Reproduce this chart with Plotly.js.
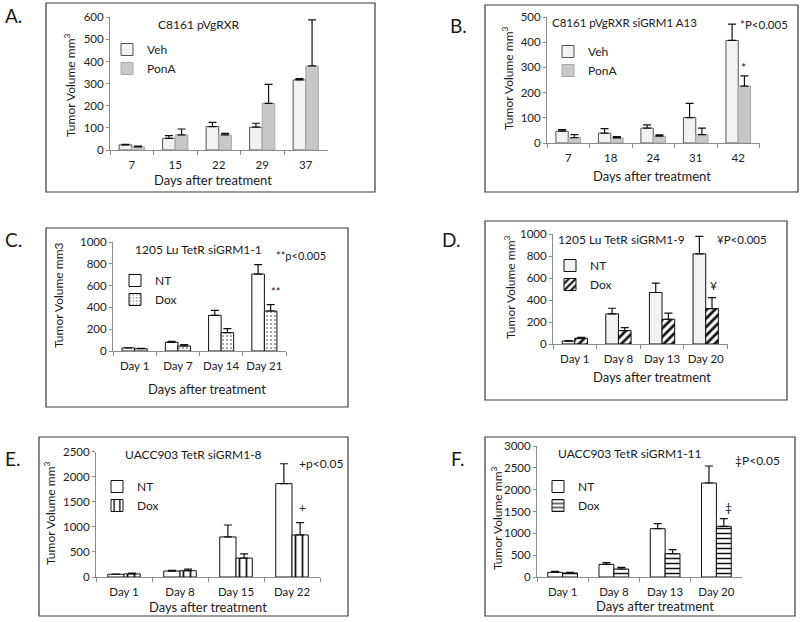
<!DOCTYPE html>
<html>
<head>
<meta charset="utf-8">
<script src="https://cdn.plot.ly/plotly-3.0.1.min.js"></script>
<style>html,body{margin:0;padding:0;background:#fff;}#chart{width:800px;height:622px;}</style>
</head>
<body>
<div id="chart"></div>
<script>
// ---------- DATA ----------
// Panel A: C8161 pVgRXR
const catsA = ['7', '15', '22', '29', '37'];
const vehA = [23, 53, 106, 103, 317];
const vehAErr = [3, 12, 19, 18, 6];
const ponAA = [14, 68, 68, 211, 380];
const ponAAErr = [4, 27, 7, 86, 208];

// Panel B: C8161 pVgRXR siGRM1 A13
const catsB = ['7', '18', '24', '31', '42'];
const vehB = [47, 39, 59, 101, 407];
const vehBErr = [6, 18, 13, 56, 65];
const ponAB = [21, 20, 27, 33, 226];
const ponABErr = [12, 5, 5, 26, 40];

// Panel C: 1205 Lu TetR siGRM1-1
const catsC = ['Day 1', 'Day 7', 'Day 14', 'Day 21'];
const ntC = [28, 80, 327, 706];
const ntCErr = [2, 9, 46, 86];
const doxC = [21, 46, 168, 367];
const doxCErr = [3, 12, 37, 58];

// Panel D: 1205 Lu TetR siGRM1-9
const catsD = ['Day 1', 'Day 8', 'Day 13', 'Day 20'];
const ntD = [27, 274, 468, 820];
const ntDErr = [3, 51, 85, 159];
const doxD = [52, 122, 225, 322];
const doxDErr = [8, 27, 55, 100];

// Panel E: UACC903 TetR siGRM1-8
const catsE = ['Day 1', 'Day 8', 'Day 15', 'Day 22'];
const ntE = [55, 119, 798, 1860];
const ntEErr = [5, 13, 238, 396];
const doxE = [62, 125, 376, 838];
const doxEErr = [18, 33, 86, 244];

// Panel F: UACC903 TetR siGRM1-11
const catsF = ['Day 1', 'Day 8', 'Day 13', 'Day 20'];
const ntF = [107, 290, 1107, 2153];
const ntFErr = [23, 38, 114, 389];
const doxF = [92, 183, 534, 1160];
const doxFErr = [15, 38, 92, 176];

// ---------- helpers ----------
const W = 800, H = 622;
const px = x => x / W;
const py = y => 1 - y / H;
const FONT = 'Lato, "Open Sans", sans-serif';

function bar(name, cats, vals, errs, ax, leg, marker) {
  return {
    type: 'bar', name: name, x: cats, y: vals,
    xaxis: 'x' + ax, yaxis: 'y' + ax, legend: leg,
    marker: marker,
    error_y: {type: 'data', array: errs, arrayminus: errs.map(() => 0), symmetric: false,
              color: '#111', thickness: 1.2, width: 4},
    hoverinfo: 'skip'
  };
}

const vehStyle = {color: '#f2f2f2', line: {color: '#555', width: 1}};
const ponStyle = {color: '#c8c8c8', line: {color: '#a8a8a8', width: 1}};
const ntWhite = {color: '#ffffff', line: {color: '#111', width: 1}};
const ntGray = {color: '#f2f2f2', line: {color: '#111', width: 1}};

const data = [
  bar('Veh', catsA, vehA, vehAErr, '', 'legend', vehStyle),
  bar('PonA', catsA, ponAA, ponAAErr, '', 'legend', ponStyle),
  bar('Veh', catsB, vehB, vehBErr, '2', 'legend2', vehStyle),
  bar('PonA', catsB, ponAB, ponABErr, '2', 'legend2', ponStyle),
  bar('NT', catsC, ntC, ntCErr, '3', 'legend3', ntWhite),
  bar('Dox', catsC, doxC, doxCErr, '3', 'legend3',
      {color: '#fff', line: {color: '#111', width: 1},
       pattern: {shape: '.', fgcolor: '#333', bgcolor: '#fff', size: 4, solidity: 0.12}}),
  bar('NT', catsD, ntD, ntDErr, '4', 'legend4', ntGray),
  bar('Dox', catsD, doxD, doxDErr, '4', 'legend4',
      {color: '#fff', line: {color: '#111', width: 1},
       pattern: {shape: '/', fgcolor: '#111', bgcolor: '#fff', size: 6, solidity: 0.45}}),
  bar('NT', catsE, ntE, ntEErr, '5', 'legend5', ntWhite),
  bar('Dox', catsE, doxE, doxEErr, '5', 'legend5',
      {color: '#fff', line: {color: '#111', width: 1},
       pattern: {shape: '|', fgcolor: '#111', bgcolor: '#fff', size: 7, solidity: 0.25}}),
  bar('NT', catsF, ntF, ntFErr, '6', 'legend6', ntWhite),
  bar('Dox', catsF, doxF, doxFErr, '6', 'legend6',
      {color: '#fff', line: {color: '#111', width: 1},
       pattern: {shape: '-', fgcolor: '#111', bgcolor: '#fff', size: 5, solidity: 0.3}})
];

// plot-area geometry (pixels)
const geo = [
  {ax: '',  x0: 110, x1: 327.5, yT: 17.3, yB: 150, max: 600,  dt: 100},
  {ax: '2', x0: 547, x1: 759.5, yT: 17,   yB: 143, max: 500,  dt: 100},
  {ax: '3', x0: 113, x1: 286,   yT: 242,  yB: 351, max: 1000, dt: 200},
  {ax: '4', x0: 553, x1: 727.5, yT: 234,  yB: 344, max: 1000, dt: 200},
  {ax: '5', x0: 96,  x1: 320,   yT: 451.5,yB: 577, max: 2500, dt: 500},
  {ax: '6', x0: 537, x1: 742,   yT: 446,  yB: 577, max: 3000, dt: 500}
];

const layout = {
  width: W, height: H,
  margin: {l: 0, r: 0, t: 0, b: 0},
  paper_bgcolor: '#fff', plot_bgcolor: 'rgba(0,0,0,0)',
  barmode: 'group', bargap: 0.42, bargroupgap: 0,
  font: {family: FONT, size: 11, color: '#222'},
  showlegend: true,
  annotations: [], shapes: []
};

geo.forEach(g => {
  layout['xaxis' + g.ax] = {
    domain: [px(g.x0), px(g.x1)], anchor: 'y' + g.ax, type: 'category',
    showline: true, linecolor: '#8c8c8c', linewidth: 1,
    ticks: 'outside', tickson: 'boundaries', ticklen: 4, tickcolor: '#8c8c8c',
    tickangle: 0, ticklabelstandoff: 4,
    tickfont: {family: FONT, size: 11.5, color: '#222'},
    showgrid: false, zeroline: false, fixedrange: true
  };
  layout['yaxis' + g.ax] = {
    domain: [py(g.yB), py(g.yT)], anchor: 'x' + g.ax,
    range: [0, g.max], dtick: g.dt, tick0: 0,
    showline: true, linecolor: '#8c8c8c', linewidth: 1,
    ticks: 'outside', ticklen: 3, tickcolor: '#8c8c8c',
    tickfont: {family: FONT, size: 11.5, color: '#222'},
    showgrid: false, zeroline: false, fixedrange: true
  };
});

// legends
const legPos = [
  ['legend', 127, 45], ['legend2', 568, 47], ['legend3', 135, 276],
  ['legend4', 570, 261], ['legend5', 117, 482], ['legend6', 558, 482]
];
legPos.forEach(([k, sx, sy]) => {
  layout[k] = {x: px(sx - 20), y: py(sy - 10), xanchor: 'left', yanchor: 'top',
               bgcolor: 'rgba(0,0,0,0)', borderwidth: 0,
               font: {family: FONT, size: 12, color: '#222'}};
});

// panel frames
const frames = [[46, 3, 375, 192], [485, 5, 798, 192], [46, 228, 348, 407],
                [485, 221, 787, 400], [39, 437, 348, 616], [485, 437, 795, 616]];
frames.forEach(f => layout.shapes.push({
  type: 'rect', xref: 'paper', yref: 'paper',
  x0: px(f[0]), x1: px(f[2]), y0: py(f[3]), y1: py(f[1]),
  line: {color: '#3a3a3a', width: 1.2}, fillcolor: 'rgba(0,0,0,0)'
}));

function txt(t, x, y, size, opts) {
  layout.annotations.push(Object.assign({
    text: t, xref: 'paper', yref: 'paper', x: px(x), y: py(y),
    xanchor: 'center', yanchor: 'middle', showarrow: false,
    font: {family: FONT, size: size, color: '#1a1a1a'}
  }, opts || {}));
}

// panel letters
txt('A.', 13, 16, 19); txt('B.', 458, 25, 19); txt('C.', 13, 240, 19);
txt('D.', 452, 240, 19); txt('E.', 12, 458, 19); txt('F.', 457, 458, 19);

// chart titles
txt('C8161 pVgRXR', 198, 24, 12);
txt('C8161 pVgRXR siGRM1 A13', 624, 23, 11.5);
txt('1205 Lu TetR siGRM1-1', 198, 249, 12);
txt('1205 Lu TetR siGRM1-9', 621, 239, 12);
txt('UACC903 TetR siGRM1-8', 193, 454, 12);
txt('UACC903 TetR siGRM1-11', 630, 453, 12);

// x titles
txt('Days after treatment', 213, 180, 13);
txt('Days after treatment', 652, 176, 13);
txt('Days after treatment', 207, 389, 13);
txt('Days after treatment', 652, 377, 13);
txt('Days after treatment', 208, 607, 13);
txt('Days after treatment', 655, 606, 13);

// y titles
const yt = 'Tumor Volume mm<sup>3</sup>';
txt(yt, 70, 85, 12, {textangle: -90});
txt(yt, 508, 78, 12, {textangle: -90});
txt('Tumor Volume mm3', 58, 295, 12, {textangle: -90});
txt(yt, 510, 287, 12, {textangle: -90});
txt(yt, 50, 513, 12, {textangle: -90});
txt(yt, 497, 518, 12, {textangle: -90});

// significance marks
txt('*P&lt;0.005', 764, 24, 11.5);
txt('*', 743, 67, 12);
txt('**p&lt;0.005', 301, 255, 11);
txt('**', 275, 291, 11);
txt('¥P&lt;0.005', 742, 239, 11.5);
txt('¥', 713, 285, 12);
txt('+p&lt;0.05', 321, 463, 12);
txt('+', 302, 507, 12);
txt('‡P&lt;0.05', 757, 460, 12);
txt('‡', 728, 507, 12);

Plotly.newPlot('chart', data, layout, {staticPlot: true, displayModeBar: false});
</script>
</body>
</html>
